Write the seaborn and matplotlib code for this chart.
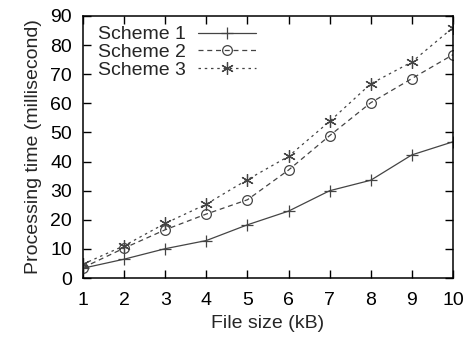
import matplotlib
matplotlib.use("Agg")
import matplotlib.pyplot as plt
import seaborn as sns
import pandas as pd

## values
file_size = [1, 2, 3, 4, 5, 6, 7, 8, 9, 10]
scheme1 = [3.4, 6.5, 10.1, 12.9, 18.3, 23.0, 30.0, 33.6, 42.3, 46.8]
scheme2 = [3.6, 10.3, 16.6, 22.0, 26.9, 37.1, 48.9, 60.2, 68.5, 76.7]
scheme3 = [4.8, 11.1, 18.8, 25.4, 33.8, 41.8, 53.8, 66.7, 74.2, 86.0]
names = ["Scheme 1", "Scheme 2", "Scheme 3"]

df = pd.DataFrame({"File size (kB)": file_size,
                   "Scheme 1": scheme1, "Scheme 2": scheme2, "Scheme 3": scheme3})
df = df.melt(id_vars="File size (kB)", var_name="scheme", value_name="time")

sns.set_style("ticks")
plt.rcParams["font.family"] = ["Liberation Sans", "DejaVu Sans"]

fig = plt.figure(figsize=(4.65, 3.4), dpi=100)
ax = fig.add_axes([0.1785, 0.182, 0.7955, 0.771])

line_col = "#444444"
styles = {"Scheme 1": ("-", "+", 8, None),
          "Scheme 2": ((0, (4, 3)), "o", 7, "none"),
          "Scheme 3": ((0, (2, 3)), (6, 2, 0), 9, None)}

for name in names:
    ls, mk, ms, mfc = styles[name]
    sub = df[df["scheme"] == name]
    sns.lineplot(data=sub, x="File size (kB)", y="time", ax=ax, label=name,
                 color=line_col, linestyle=ls, marker=mk, markersize=ms,
                 markerfacecolor=mfc if mfc else line_col,
                 markeredgecolor=line_col, markeredgewidth=0.9, linewidth=0.9)

ax.set_xlim(1, 10)
ax.set_ylim(0, 90)
ax.set_xticks(range(1, 11))
ax.set_yticks(range(0, 91, 10))
ax.tick_params(direction="in", length=6, width=1, top=True, right=True,
               labelsize=14, colors="black", pad=8)
ax.tick_params(axis="x", pad=10)
for s in ax.spines.values():
    s.set_linewidth(1.1)
    s.set_color("black")
ax.set_xlabel("File size (kB)", fontsize=14, labelpad=4)
ax.set_ylabel("Processing time (millisecond)", fontsize=14, labelpad=6)

leg = ax.legend(loc="upper left", frameon=False, markerfirst=False, fontsize=14,
                handlelength=3.0, labelspacing=0.0, borderaxespad=0.1,
                handletextpad=0.6, bbox_to_anchor=(0.015, 1.0))

fig.savefig("out.png", dpi=100)
